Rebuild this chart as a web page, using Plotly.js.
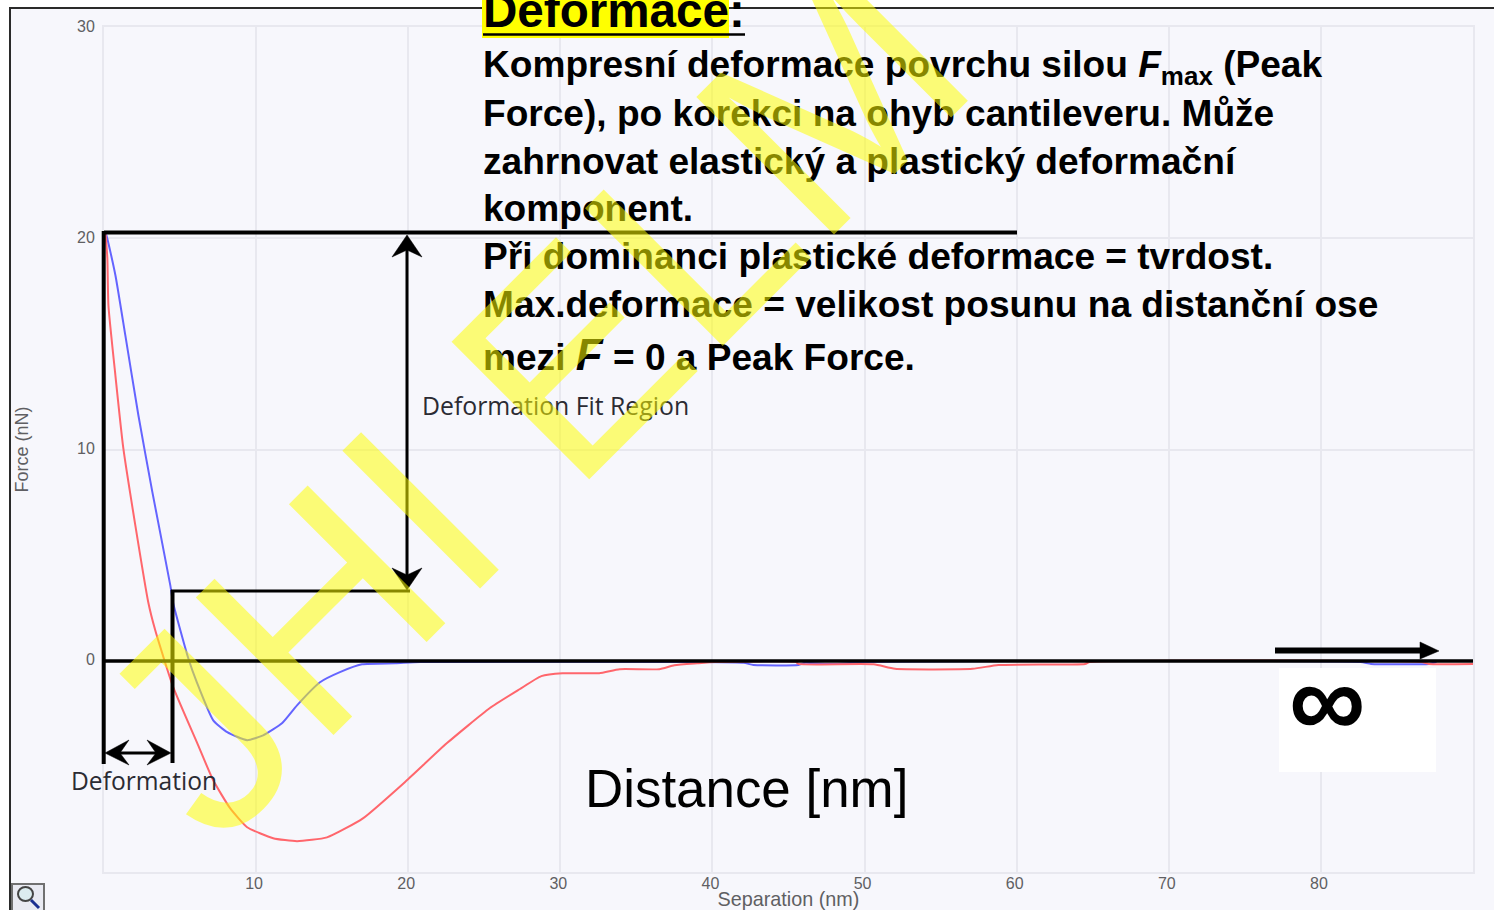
<!DOCTYPE html>
<html><head><meta charset="utf-8">
<script src="https://cdn.plot.ly/plotly-3.0.1.min.js"></script>
<style>html,body{margin:0;padding:0;background:#fff;overflow:hidden}</style>
</head><body><div id="chart" style="width:1494px;height:910px"></div>
<script>
// Data
const blueX = [0.05,0.16,0.75,1.40,2.26,3.18,4.36,4.55,5.54,6.13,7.18,8.10,9.41,10.46,11.70,12.69,14.20,15.51,16.96,19.15,20.8,39.2,42.05,42.7,45.65,46.1,47.4,48.2,50.1,82.6,83.3,87.1,87.6];
const blueY = [20.3,20.14,18.25,15.41,11.62,7.98,3.57,2.72,0.12,-1.07,-2.82,-3.38,-3.76,-3.53,-2.96,-2.11,-1.02,-0.54,-0.17,-0.12,-0.06,-0.06,-0.1,-0.2,-0.2,-0.1,-0.15,-0.15,-0.06,-0.06,-0.15,-0.15,-0.06];
const redX = [0.1,0.22,0.29,0.75,1.27,2.06,2.91,3.37,4.55,6.13,7.18,8.29,9.41,11.12,12.69,14.66,17.02,19.91,22.53,25.35,27.32,28.75,30.14,32.55,33.9,36.5,37.5,39,40.2,45.5,45.65,50.6,52,57.1,58.8,64.5,64.8,86.6,87.1,90];
const redY = [20.2,19.05,16.83,13.5,10.06,6.41,2.77,1.44,-1.25,-3.9,-5.66,-6.98,-7.88,-8.4,-8.54,-8.36,-7.46,-5.66,-3.91,-2.25,-1.35,-0.73,-0.59,-0.59,-0.4,-0.4,-0.21,-0.12,-0.06,-0.06,-0.15,-0.17,-0.38,-0.38,-0.2,-0.15,-0.06,-0.06,-0.15,-0.15];
const xTicks = [10,20,30,40,50,60,70,80];
const yTicks = [0,10,20,30];
const bodyLines = [
  ["Kompresní deformace povrchu silou <i>F</i><sub>max</sub> (Peak", 67],
  ["Force), po korekci na ohyb cantileveru. Může", 113],
  ["zahrnovat elastický a plastický deformační", 161],
  ["komponent.", 208],
  ["Při dominanci plastické deformace = tvrdost.", 256],
  ["Max.deformace = velikost posunu na distanční ose", 304],
  ["mezi <span style=\"font-size:44px\"><i>F</i></span> = 0 a Peak Force.", 354]
];

const L=104,R=1473,T=27,B=872;
const fx=p=>(p-L)/(R-L), fy=p=>(B-p)/(B-T);
const pt=(x,y)=>fx(x).toFixed(5)+","+fy(y).toFixed(5);
const path=(pts,close)=>"M"+pts.map(p=>pt(p[0],p[1])).join("L")+(close?"Z":"");
const base={xref:"paper",yref:"paper"};
const seg=(x0,y0,x1,y1,w,c)=>({...base,type:"line",x0:fx(x0),y0:fy(y0),x1:fx(x1),y1:fy(y1),line:{color:c||"#000",width:w}});
const rect=(x0,y0,x1,y1,fill,lc,lw,layer)=>({...base,type:"rect",x0:fx(x0),y0:fy(y0),x1:fx(x1),y1:fy(y1),fillcolor:fill,line:{color:lc||fill,width:lw||0},layer:layer||"above"});
const head=(pts)=>({...base,type:"path",path:path(pts,true),fillcolor:"#000",line:{color:"#000",width:0.5}});

const shapes=[
  rect(10,8,1520,930,"#f7f7fc","#2a2a2a",2,"below"),
  rect(1279,668,1436,772,"#ffffff"),
  rect(482,-10,729,38,"#ffff00"),
  seg(483,34.5,745,34.5,2.5),
  seg(104,661,1473,661,3.6),
  seg(104,232.5,1017,232.5,4),
  seg(103.7,231,103.7,764,4),
  seg(172.5,590,172.5,763,4),
  seg(171,591,410,591,3),
  seg(407,248,407,578,3),
  head([[407,235],[392,257],[407,250],[422,257]]),
  head([[407,590],[392,568],[407,575],[422,568]]),
  seg(118,753,160,753,3),
  head([[105,753],[129,740],[120,753],[129,765]]),
  head([[171,753],[147,740],[156,753],[147,765]]),
  seg(1275,650.5,1422,650.5,6),
  head([[1420,642],[1439,651],[1420,659]]),
  rect(12,884,44,914,"#e9eaf2","#707070",2),
  {...base,type:"circle",x0:fx(18),x1:fx(33),y0:fy(887),y1:fy(901),fillcolor:"#dcecef",line:{color:"#444",width:2}},
  seg(31,900,39,908,3,"#1c2f90")
];

const sans="'Liberation Sans',Arial,sans-serif";
const txt=(x,y,text,size,opts)=>Object.assign({...base,x:fx(x),y:fy(y),xanchor:"left",yanchor:"middle",align:"left",showarrow:false,text:text,borderpad:0,
  font:{family:sans,size:size,color:"#000"}},opts||{});
const annotations=[
  txt(482,11,"Deformace:",47.6,{font:{family:sans,size:47.6,color:"#000",weight:700}}),
];
bodyLines.forEach(l=>annotations.push(txt(482,l[1],l[0],37.1,{font:{family:sans,size:37.1,color:"#000",weight:700}})));
annotations.push(
  txt(421,405,"Deformation Fit Region",24.8,{font:{family:"'Open Sans',sans-serif",size:24.8,color:"#2b2b33"}}),
  txt(70,780,"Deformation",24.6,{font:{family:"'Open Sans',sans-serif",size:24.6,color:"#2b2b33"}}),
  txt(584,788,"Distance [nm]",52.9),
  txt(1287.5,700,"∞",107,{font:{family:sans,size:107,color:"#000",weight:700}}),
  {...base,x:fx(531),y:fy(399),xanchor:"center",yanchor:"middle",showarrow:false,textangle:-45,text:"JHI ELM",opacity:0.53,
   font:{family:sans,size:283,color:"#ffff00"}}
);

const axisCommon={showgrid:true,gridcolor:"#e8e8ef",gridwidth:2,zeroline:false,showline:true,mirror:true,linecolor:"#e8e8ef",linewidth:2,
  ticks:"outside",tickcolor:"rgba(0,0,0,0)",tickfont:{family:sans,size:16,color:"#5f5f63"}};
const layout={
  width:1494,height:910,margin:{l:L,r:1494-R,t:T,b:910-B},
  paper_bgcolor:"#ffffff",plot_bgcolor:"rgba(0,0,0,0)",showlegend:false,hovermode:false,
  xaxis:{...axisCommon,range:[0,90],tickmode:"array",tickvals:xTicks,ticklen:1,ticklabelstandoff:-5,ticklabelshift:-2,
    title:{text:"Separation (nm)",standoff:4,font:{family:sans,size:19.8,color:"#5f5f63"}}},
  yaxis:{...axisCommon,range:[-10,30],tickmode:"array",tickvals:yTicks,ticklen:4,ticklabelshift:-1,
    title:{text:"Force (nN)",standoff:44,font:{family:sans,size:18,color:"#5f5f63"}}},
  shapes:shapes,annotations:annotations
};
const traces=[
  {x:blueX,y:blueY,type:"scatter",mode:"lines",line:{color:"#6464ff",width:2,shape:"spline",smoothing:0.5},name:"Approach"},
  {x:redX,y:redY,type:"scatter",mode:"lines",line:{color:"#ff666c",width:2,shape:"spline",smoothing:0.5},name:"Retract"}
];
Plotly.newPlot("chart",traces,layout,{displayModeBar:false,staticPlot:true});
</script></body></html>
